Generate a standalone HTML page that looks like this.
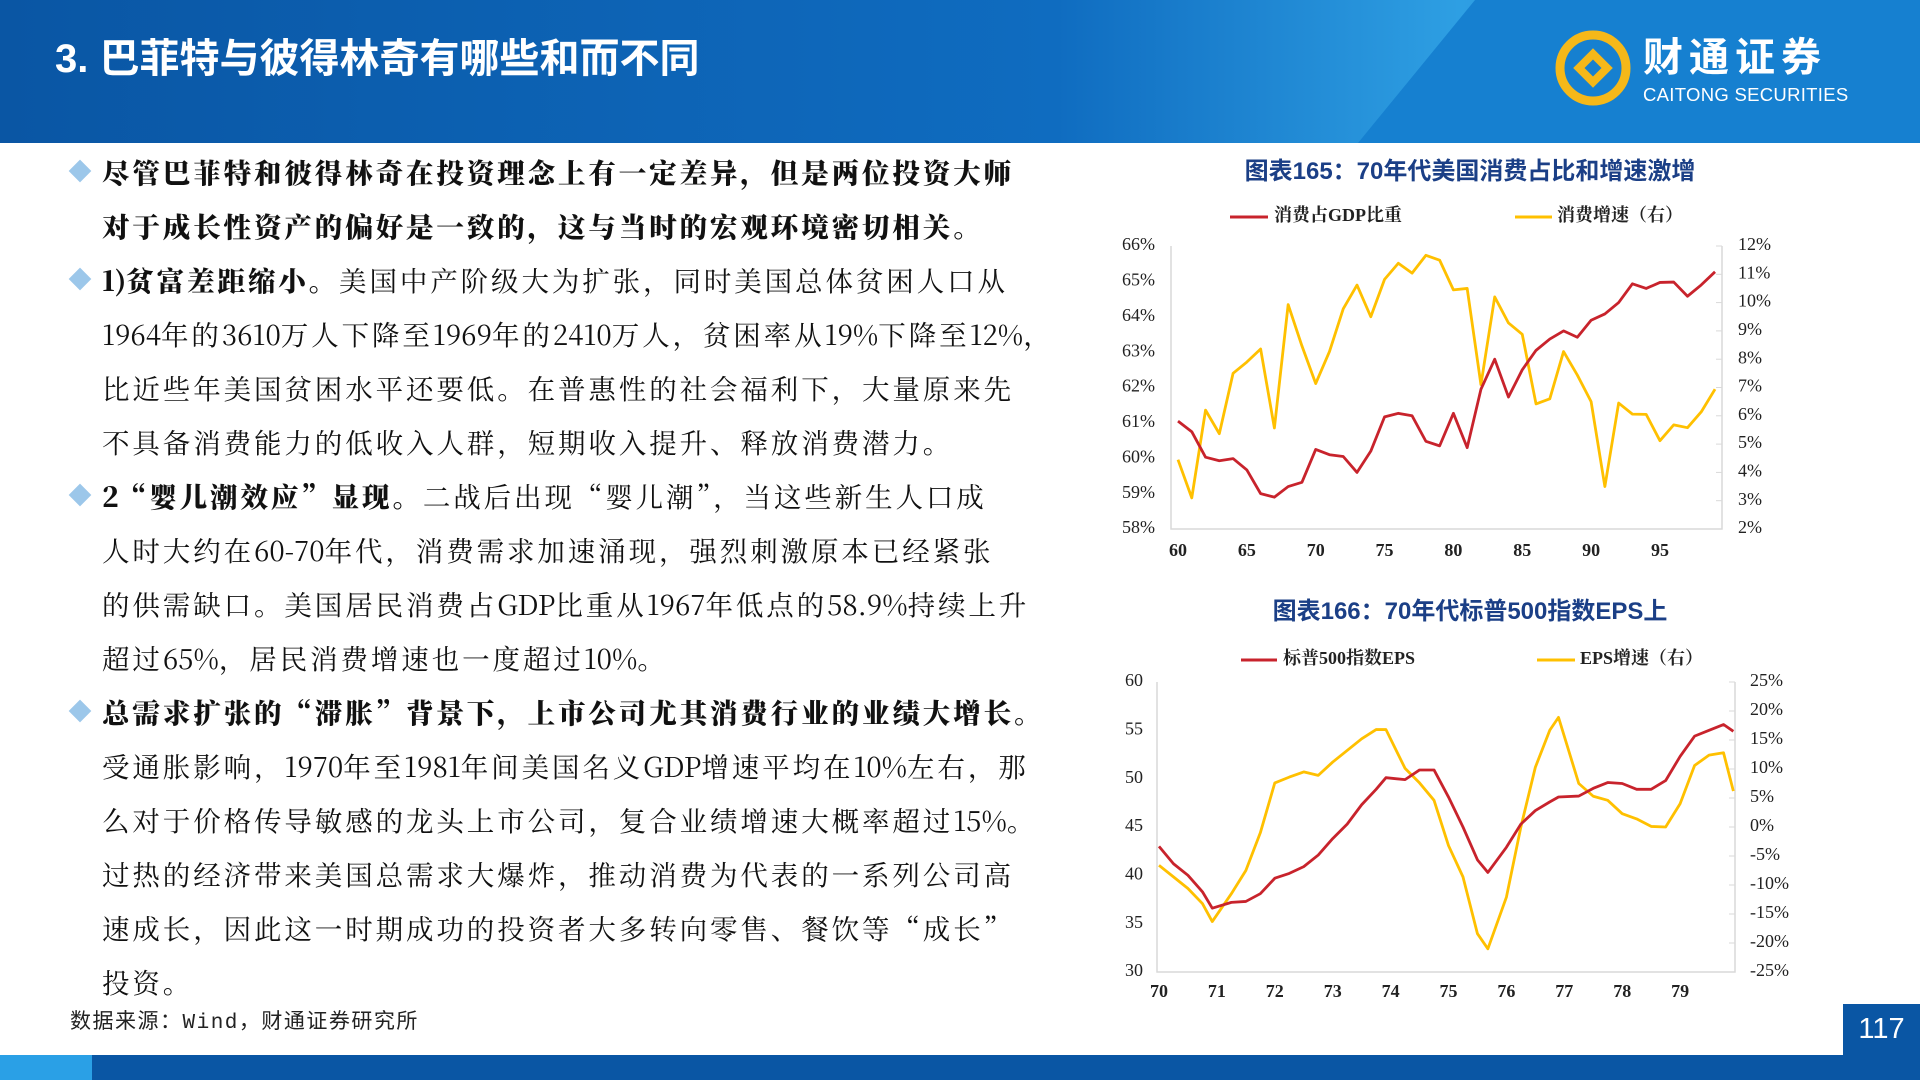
<!DOCTYPE html>
<html><head><meta charset="utf-8">
<style>
*{margin:0;padding:0;box-sizing:border-box}
body{width:1920px;height:1080px;overflow:hidden;background:#fff;position:relative;font-family:"Liberation Sans","Noto Sans CJK SC",sans-serif}
.abs{position:absolute}
.line{position:absolute;left:102px;font-family:"Noto Serif CJK SC","Liberation Serif",serif;font-size:27.5px;letter-spacing:2.9px;white-space:nowrap;color:#111;line-height:34px}
.line .n{letter-spacing:0px;font-family:"Noto Serif CJK SC",serif}
.b{font-weight:900}
.dia{position:absolute;left:72px;width:16px;height:16px;background:#9cc7ea;transform:rotate(45deg)}
</style></head><body>
<svg class="abs" style="left:0;top:0" width="1920" height="143">
<defs><linearGradient id="hg" x1="0" x2="1" y1="0" y2="0"><stop offset="0" stop-color="#0a56a4"/><stop offset="0.55" stop-color="#0f6cc0"/><stop offset="0.76" stop-color="#2e9fe3"/><stop offset="1" stop-color="#1a84d2"/></linearGradient></defs>
<rect width="1920" height="143" fill="url(#hg)"/>
<polygon points="1475,0 1920,0 1920,143 1358,143" fill="#1680d0"/>
</svg>
<div class="abs" style="left:55px;top:26px;color:#fff;font-size:40px;font-weight:bold;font-family:'Liberation Sans','Noto Sans CJK SC',sans-serif">3. 巴菲特与彼得林奇有哪些和而不同</div>
<svg class="abs" style="left:1555px;top:30px" width="80" height="80">
<circle cx="38" cy="38" r="33" fill="none" stroke="#f5b819" stroke-width="9"/>
<rect x="24" y="24" width="28" height="28" fill="#f5b819" transform="rotate(45 38 38)"/>
<rect x="32" y="32" width="12" height="12" fill="#1680d0" transform="rotate(45 38 38)"/>
</svg>
<div class="abs" style="left:1643px;top:30px;color:#fff;font-size:40px;font-weight:bold;letter-spacing:6px;font-family:'Noto Sans CJK SC',sans-serif;line-height:48px">财通证券</div>
<div class="abs" style="left:1643px;top:84px;color:#fff;font-size:18.5px;letter-spacing:0.3px">CAITONG SECURITIES</div>

<div id="body">
<div class="dia" style="top:163px"></div>
<div class="line b" style="top:154px">尽管巴菲特和彼得林奇在投资理念上有一定差异，但是两位投资大师</div>
<div class="line b" style="top:208px">对于成长性资产的偏好是一致的，这与当时的宏观环境密切相关。</div>
<div class="dia" style="top:271px"></div>
<div class="line" style="top:262px"><span class="b">1)贫富差距缩小。</span>美国中产阶级大为扩张，同时美国总体贫困人口从</div>
<div class="line" style="top:316px">1964年的3610万人下降至1969年的2410万人，贫困率从19%下降至12%，</div>
<div class="line" style="top:370px">比近些年美国贫困水平还要低。在普惠性的社会福利下，大量原来先</div>
<div class="line" style="top:424px">不具备消费能力的低收入人群，短期收入提升、释放消费潜力。</div>
<div class="dia" style="top:487px"></div>
<div class="line" style="top:478px"><span class="b">2“婴儿潮效应”显现。</span>二战后出现“婴儿潮”，当这些新生人口成</div>
<div class="line" style="top:532px">人时大约在60-70年代，消费需求加速涌现，强烈刺激原本已经紧张</div>
<div class="line" style="top:586px">的供需缺口。美国居民消费占GDP比重从1967年低点的58.9%持续上升</div>
<div class="line" style="top:640px">超过65%，居民消费增速也一度超过10%。</div>
<div class="dia" style="top:703px"></div>
<div class="line b" style="top:694px">总需求扩张的“滞胀”背景下，上市公司尤其消费行业的业绩大增长。</div>
<div class="line" style="top:748px">受通胀影响，1970年至1981年间美国名义GDP增速平均在10%左右，那</div>
<div class="line" style="top:802px">么对于价格传导敏感的龙头上市公司，复合业绩增速大概率超过15%。</div>
<div class="line" style="top:856px">过热的经济带来美国总需求大爆炸，推动消费为代表的一系列公司高</div>
<div class="line" style="top:910px">速成长，因此这一时期成功的投资者大多转向零售、餐饮等“成长”</div>
<div class="line" style="top:964px">投资。</div>
</div>
<div class="abs" style="left:70px;top:1005px;font-size:21px;letter-spacing:1.5px;color:#222;font-family:'Liberation Mono','Noto Sans CJK SC',monospace">数据来源：Wind，财通证券研究所</div>

<div class="abs" style="left:0;top:1055px;width:1920px;height:25px;background:#0a56a4"></div>
<div class="abs" style="left:0;top:1055px;width:92px;height:25px;background:#2aa0e6"></div>
<div class="abs" style="left:1843px;top:1004px;width:77px;height:51px;background:#0a56a4;color:#fff;font-size:29px;text-align:center;line-height:51px">117</div>

<div class="abs" style="left:1100px;top:151px;width:740px;text-align:center;color:#1b3f86;font-size:24px;font-weight:bold">图表165：70年代美国消费占比和增速激增</div>
<div class="abs" style="left:1100px;top:591px;width:740px;text-align:center;color:#1b3f86;font-size:24px;font-weight:bold">图表166：70年代标普500指数EPS上</div>

<svg id="ch" class="abs" style="left:0;top:0" width="1920" height="1080"></svg>
<script>
document.querySelectorAll('.line').forEach(el=>{
  const walk=n=>{ if(n.nodeType===3){ if(/[\x21-\x7e]/.test(n.textContent)){ const f=document.createElement('span'); f.innerHTML=n.textContent.replace(/([\x21-\x7e]+)/g,'<span class="n">$1</span>'); n.replaceWith(...f.childNodes);} } else [...n.childNodes].forEach(walk); };
  walk(el);
});
const years1=[60,61,62,63,64,65,66,67,68,69,70,71,72,73,74,75,76,77,78,79,80,81,82,83,84,85,86,87,88,89,90,91,92,93,94,95,96,97,98,99];
const gdpShare=[61.05,60.75,60.03,59.93,59.99,59.67,59.0,58.9,59.2,59.32,60.25,60.1,60.05,59.6,60.2,61.17,61.27,61.2,60.48,60.35,61.27,60.3,61.95,62.8,61.73,62.5,63.05,63.37,63.6,63.42,63.9,64.08,64.4,64.93,64.8,64.97,64.98,64.58,64.9,65.27];
const consGrowth=[4.45,3.1,6.2,5.37,7.5,7.9,8.36,5.57,9.93,8.47,7.14,8.27,9.78,10.62,9.5,10.82,11.39,11.04,11.67,11.5,10.45,10.5,7.1,10.2,9.28,8.88,6.42,6.6,8.27,7.44,6.5,3.5,6.45,6.06,6.05,5.12,5.68,5.58,6.14,6.94];
const xTicks1=[60,65,70,75,80,85,90,95];
const yTicksL1=[58,59,60,61,62,63,64,65,66];
const yTicksR1=[2,3,4,5,6,7,8,9,10,11,12];

const epsTimes=[70,70.25,70.5,70.75,70.92,71.25,71.5,71.75,72,72.25,72.5,72.75,73,73.25,73.5,73.75,73.92,74.25,74.5,74.75,75,75.25,75.5,75.68,76,76.25,76.5,76.75,76.9,77.25,77.5,77.75,78,78.25,78.5,78.75,79,79.25,79.5,79.75,79.92];
const eps=[43.0,41.2,40.0,38.3,36.6,37.2,37.3,38.1,39.7,40.2,40.9,42.1,43.8,45.3,47.3,48.9,50.1,49.9,50.9,50.9,48.1,45.0,41.6,40.3,42.9,45.3,46.7,47.6,48.1,48.2,49.0,49.6,49.5,48.9,48.9,49.8,52.3,54.4,55.0,55.6,54.9];
const epsGrowth=[-6.6,-8.6,-10.6,-13.2,-16.3,-11.5,-7.5,-1.0,7.6,8.6,9.5,8.9,11.2,13.2,15.2,16.8,16.8,10.1,7.6,4.6,-3.2,-8.6,-18.4,-21.0,-12.1,0.0,10.3,16.7,18.9,7.5,5.3,4.6,2.3,1.4,0.1,0.0,4.0,10.6,12.4,12.8,6.2];
const xTicks2=[70,71,72,73,74,75,76,77,78,79];
const yTicksL2=[30,35,40,45,50,55,60];
const yTicksR2=[-25,-20,-15,-10,-5,0,5,10,15,20,25];

const x1=v=>1178+(v-60)*13.77, yL1=v=>529-(v-58)*(283/8), yR1=v=>529-(v-2)*28.3;
const x2=t=>1159+(t-70)*57.9, yL2=v=>972-(v-30)*(290/30), yR2=v=>972-(v+25)*5.8;
const svg=document.getElementById('ch'), NS='http://www.w3.org/2000/svg';
function mk(tag,attrs,parent){const e=document.createElementNS(NS,tag);for(const k in attrs)e.setAttribute(k,attrs[k]);(parent||svg).appendChild(e);return e;}
function txt(x,y,s,anchor,bold,size){const t=mk('text',{x:x,y:y,'text-anchor':anchor,'dominant-baseline':'middle','font-family':'"Liberation Serif","Noto Serif CJK SC",serif','font-size':size||18,'font-weight':bold?'bold':'normal',fill:'#222'});t.textContent=s;return t;}

let a=mk('path',{d:'M1171 246V529H1722V246',fill:'none',stroke:'#d9d9d9','stroke-width':1.5});


yTicksL1.forEach(v=>{const t=txt(1155,yL1(v),v+'%','end');});
yTicksR1.forEach(v=>{mk('line',{x1:1716,x2:1722,y1:yR1(v),y2:yR1(v),stroke:'#d9d9d9'});const t=txt(1738,yR1(v),v+'%','start');});
xTicks1.forEach(v=>{const t=txt(x1(v),552,String(v),'middle',true);});
let p=mk('polyline',{points:years1.map((y,i)=>x1(y)+','+yR1(consGrowth[i])).join(' '),fill:'none',stroke:'#ffc000','stroke-width':2.8,'stroke-linejoin':'round'});


p=mk('polyline',{points:years1.map((y,i)=>x1(y)+','+yL1(gdpShare[i])).join(' '),fill:'none',stroke:'#c8232c','stroke-width':2.8,'stroke-linejoin':'round'});


mk('line',{x1:1230,x2:1268,y1:217,y2:217,stroke:'#c8232c','stroke-width':3});
let l=txt(1274,217,'消费占GDP比重','start',true,18);


mk('line',{x1:1515,x2:1552,y1:217,y2:217,stroke:'#ffc000','stroke-width':3});
l=txt(1557,217,'消费增速（右）','start',true,18);



a=mk('path',{d:'M1157 682V972H1735V682',fill:'none',stroke:'#d9d9d9','stroke-width':1.5});


yTicksL2.forEach(v=>{const t=txt(1143,yL2(v),String(v),'end');});
yTicksR2.forEach(v=>{mk('line',{x1:1729,x2:1735,y1:yR2(v),y2:yR2(v),stroke:'#d9d9d9'});const t=txt(1750,yR2(v),v+'%','start');});
xTicks2.forEach(v=>{const t=txt(x2(v),993,String(v),'middle',true);});
p=mk('polyline',{points:epsTimes.map((t,i)=>x2(t)+','+yR2(epsGrowth[i])).join(' '),fill:'none',stroke:'#ffc000','stroke-width':2.8,'stroke-linejoin':'round'});


p=mk('polyline',{points:epsTimes.map((t,i)=>x2(t)+','+yL2(eps[i])).join(' '),fill:'none',stroke:'#c8232c','stroke-width':2.8,'stroke-linejoin':'round'});


mk('line',{x1:1241,x2:1277,y1:660,y2:660,stroke:'#c8232c','stroke-width':3});
l=txt(1283,660,'标普500指数EPS','start',true,18);


mk('line',{x1:1537,x2:1575,y1:660,y2:660,stroke:'#ffc000','stroke-width':3});
l=txt(1580,660,'EPS增速（右）','start',true,18);


</script>
</body></html>
